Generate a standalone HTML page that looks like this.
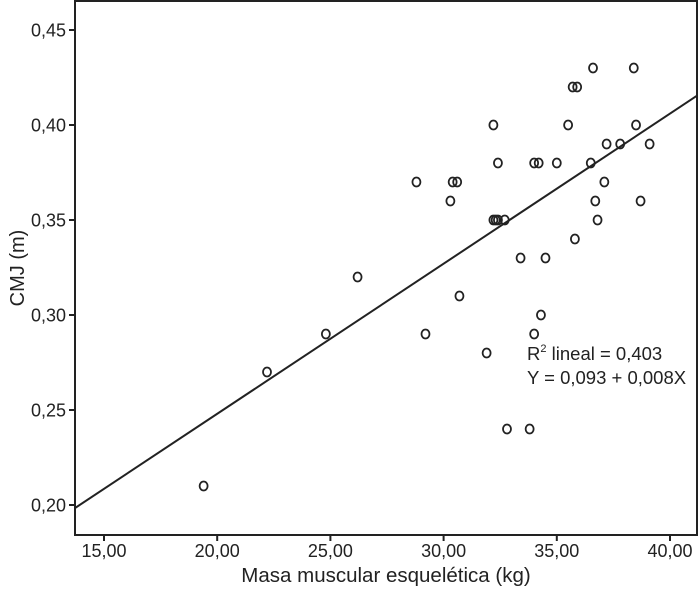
<!DOCTYPE html>
<html><head><meta charset="utf-8"><style>
body{margin:0;background:#fff;}
svg text{font-family:"Liberation Sans",sans-serif;fill:#222;}
</style></head><body>
<svg id="chart" width="700" height="588" viewBox="0 0 700 588" xmlns="http://www.w3.org/2000/svg">
<rect x="75" y="1" width="622" height="534" fill="#fff" stroke="#222" stroke-width="2"/>
<g id="ticks"></g>
<g id="marks"></g>
<text transform="translate(24,268) rotate(-90)" text-anchor="middle" font-size="20">CMJ (m)</text>
<text x="386" y="582" text-anchor="middle" font-size="20.5">Masa muscular esquelética (kg)</text>
<text x="527" y="360" font-size="18.5">R<tspan dy="-8" font-size="11">2</tspan><tspan dy="8"> lineal = 0,403</tspan></text>
<text x="527" y="384" font-size="18.5">Y = 0,093 + 0,008X</text>
</svg>
<script>
const xVals=[19.4,22.2,24.8,26.2,28.8,29.2,30.3,30.4,30.6,30.7,31.9,32.2,32.2,32.3,32.4,32.4,32.7,32.8,33.4,33.8,34.0,34.0,34.2,34.3,34.5,35.0,35.5,35.7,35.9,35.8,36.5,36.6,36.7,36.8,37.1,37.2,37.8,38.4,38.5,38.7,39.1];
const yVals=[0.21,0.27,0.29,0.32,0.37,0.29,0.36,0.37,0.37,0.31,0.28,0.40,0.35,0.35,0.35,0.38,0.35,0.24,0.33,0.24,0.38,0.29,0.38,0.30,0.33,0.38,0.40,0.42,0.42,0.34,0.38,0.43,0.36,0.35,0.37,0.39,0.39,0.43,0.40,0.36,0.39];
const xTicks=[15,20,25,30,35,40];
const yTicks=[0.20,0.25,0.30,0.35,0.40,0.45];
const fitIntercept=0.09, fitSlope=0.0079;
const xMin=13.7,xMax=41.2;
const NS="http://www.w3.org/2000/svg";
const sx=v=>104+(v-15)*22.64;
const sy=v=>30+(0.45-v)*1900;
const fmt=(v,d)=>v.toFixed(d).replace('.',',');
const tg=document.getElementById('ticks'), mg=document.getElementById('marks');
function mk(tag,attrs,parent){const e=document.createElementNS(NS,tag);for(const k in attrs)e.setAttribute(k,attrs[k]);parent.appendChild(e);return e;}
xTicks.forEach(t=>{
 const l=mk('line',{x1:sx(t),x2:sx(t),y1:535,y2:541,stroke:'#222','stroke-width':2},tg);
 
 
 const tx=mk('text',{x:sx(t),y:557,'text-anchor':'middle','font-size':18},tg);
 tx.textContent=fmt(t,2);
 
 
});
yTicks.forEach(t=>{
 const l=mk('line',{x1:69,x2:75,y1:sy(t),y2:sy(t),stroke:'#222','stroke-width':2},tg);
 
 
 const tx=mk('text',{x:66,y:sy(t)+6.5,'text-anchor':'end','font-size':18},tg);
 tx.textContent=fmt(t,2);
 
 
});
const fl=mk('line',{x1:sx(xMin),y1:sy(fitIntercept+fitSlope*xMin),x2:sx(xMax),y2:sy(fitIntercept+fitSlope*xMax),stroke:'#222','stroke-width':2},mg);


xVals.forEach((x,i)=>{
 const c=mk('ellipse',{cx:sx(x),cy:sy(yVals[i]),rx:4,ry:4.5,fill:'none',stroke:'#222','stroke-width':1.8},mg);
 
 
});
</script>
</body></html>
